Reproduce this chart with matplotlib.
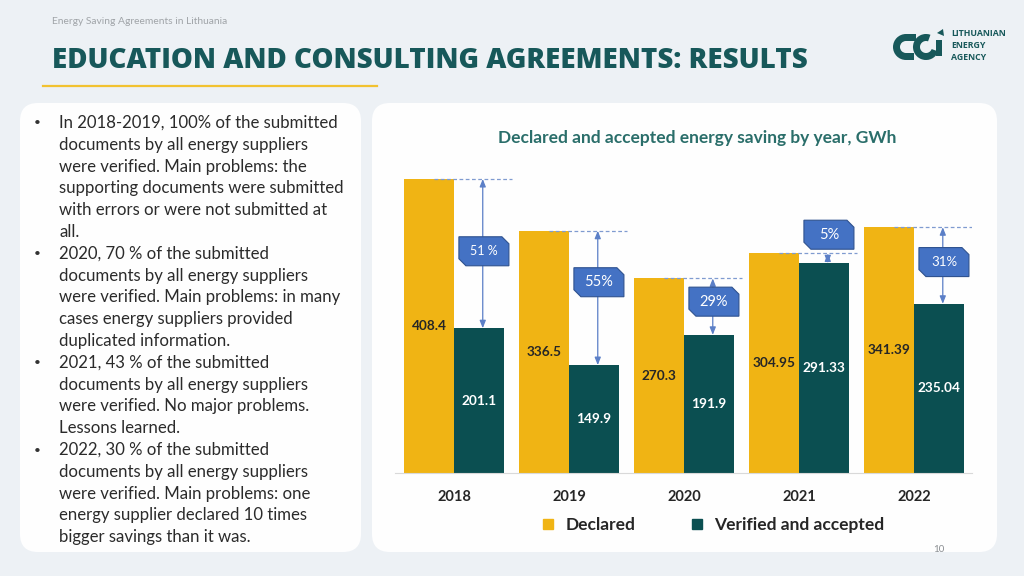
import numpy as np
import matplotlib
matplotlib.use("Agg")
import matplotlib.pyplot as plt
from matplotlib.patches import FancyBboxPatch, Polygon, Wedge, Rectangle
from matplotlib.path import Path
from matplotlib.lines import Line2D

years = ["2018", "2019", "2020", "2021", "2022"]
declared = [408.4, 336.5, 270.3, 304.95, 341.39]
verified = [201.1, 149.9, 191.9, 291.33, 235.04]
declared_labels = ["408.4", "336.5", "270.3", "304.95", "341.39"]
verified_labels = ["201.1", "149.9", "191.9", "291.33", "235.04"]
gap_labels = ["51 %", "55%", "29%", "5%", "31%"]
gap_label_y = [308, 265, 238, 331, 293]
gap_label_size = [9, 10.5, 10.5, 10.5, 9.5]

bullets = [
    "In 2018-2019, 100% of the submitted\ndocuments by all energy suppliers\nwere verified. Main problems: the\n"
    "supporting documents were submitted\nwith errors or were not submitted at\nall.",
    "2020, 70 % of the submitted\ndocuments by all energy suppliers\nwere verified. Main problems: in many\n"
    "cases energy suppliers provided\nduplicated information.",
    "2021, 43 % of the submitted\ndocuments by all energy suppliers\nwere verified. No major problems.\n"
    "Lessons learned.",
    "2022, 30 % of the submitted\ndocuments by all energy suppliers\nwere verified. Main problems: one\n"
    "energy supplier declared 10 times\nbigger savings than it was.",
]

YELLOW = "#F0B414"
TEAL = "#0B4F51"
TITLE_TEAL = "#17585A"
BLUE = "#4472C4"

plt.rcParams["font.family"] = ["Lato", "DejaVu Sans"]

W, H = 1024, 576
fig = plt.figure(figsize=(W / 100, H / 100), dpi=100)
fig.patch.set_facecolor("#EDF1F5")

# background overlay in pixel coordinates
bg = fig.add_axes([0, 0, 1, 1], zorder=0)
bg.set_xlim(0, W); bg.set_ylim(H, 0); bg.axis("off")

for x0, x1 in [(20, 361), (372, 997)]:
    bg.add_patch(FancyBboxPatch((x0, 103), x1 - x0, 449,
                                boxstyle="round,pad=0,rounding_size=18",
                                fc="white", ec="none", alpha=0.95))

bg.text(52, 22, "Energy Saving Agreements in Lithuania", fontsize=7.4, color="#A0A4A8", va="center")
bg.text(52, 61, "EDUCATION AND CONSULTING AGREEMENTS: RESULTS", fontsize=20,
        fontweight="heavy", color=TITLE_TEAL, va="center", family=["Open Sans", "DejaVu Sans"])
bg.plot([43, 377], [86, 86], color="#F2C230", lw=1.6)
bg.text(939, 549, "10", fontsize=7, color="#8A8E92", ha="center", va="center")

# logo
bg.add_patch(Wedge((906, 47), 13, 90, 270, width=7, fc=TITLE_TEAL, ec="none"))
bg.add_patch(Rectangle((906, 34), 10, 7, fc=TITLE_TEAL, ec="none"))
bg.add_patch(Rectangle((906, 53), 8, 7, fc=TITLE_TEAL, ec="none"))
bg.add_patch(Wedge((926, 47), 13, 20, 290, width=7, fc=TITLE_TEAL, ec="none"))
bg.add_patch(Polygon([[937, 33], [943, 29], [944, 36]], closed=True, fc=TITLE_TEAL, ec="none"))
bg.add_patch(Rectangle((936, 40), 6, 16, fc=TITLE_TEAL, ec="none"))
for i, word in enumerate(["LITHUANIAN", "ENERGY", "AGENCY"]):
    bg.text(951, 34 + 12 * i, word, fontsize=6.3, fontweight="bold", color=TITLE_TEAL, va="center",
            family=["Open Sans", "DejaVu Sans"])

# bullet text
y = 123
for b in bullets:
    lines = b.split("\n")
    bg.text(34, y, "\u2022", fontsize=8.5, color="#333333", va="center")
    for ln in lines:
        bg.text(59, y, ln, fontsize=12.1, color="#2B2B2B", va="center")
        y += 21.8

# chart axes
ax = fig.add_axes([395 / W, 1 - 473 / H, (972 - 395) / W, (473 - 160) / H], zorder=2)
ax.patch.set_alpha(0)
x = np.arange(len(years))
bw = 50 / 115
ax.bar(x - bw / 2, declared, bw, color=YELLOW, label="Declared", zorder=2)
ax.bar(x + bw / 2, verified, bw, color=TEAL, label="Verified and accepted", zorder=2)
ax.set_xlim(-0.513, 4.504)
ax.set_ylim(0, 313 / 0.7199)
for s in ["top", "right", "left"]:
    ax.spines[s].set_visible(False)
ax.spines["bottom"].set_color("#D9D9D9")
ax.set_yticks([])
ax.set_xticks(x)
ax.set_xticklabels(years, fontsize=10.5, fontweight="bold", color="#262626")
ax.tick_params(axis="x", length=0, pad=12)

for i in range(len(years)):
    ax.text(x[i] - bw / 2, declared[i] / 2, declared_labels[i], ha="center", va="center",
            fontsize=9.8, fontweight="bold", color="#262626", zorder=3)
    ax.text(x[i] + bw / 2, verified[i] / 2, verified_labels[i], ha="center", va="center",
            fontsize=9.8, fontweight="bold", color="white", zorder=3)
    # dashed line at declared level
    ax.plot([x[i] - 0.17, x[i] + 0.5], [declared[i], declared[i]], ls=(0, (3, 2)),
            color="#7F9BD0", lw=0.9, zorder=3)
    ax.annotate("", xy=(x[i] + 0.25, verified[i]), xytext=(x[i] + 0.25, declared[i]),
                arrowprops=dict(arrowstyle="<|-|>,head_length=0.45,head_width=0.18",
                                color="#5B7FC7", lw=0.9, shrinkA=0, shrinkB=0), zorder=3)


def snip_box(x0, y0, width, height, mutation_size):
    cx, cy = x0 + width / 2, y0 + height / 2
    w, h = 50, 29
    c = 7
    l, r, b, t = cx - w / 2, cx + w / 2, cy - h / 2, cy + h / 2
    verts = [(l, t), (r - c, t), (r, t - c), (r, b), (l + c, b), (l, b + c), (l, t), (l, t)]
    codes = [Path.MOVETO] + [Path.LINETO] * 6 + [Path.CLOSEPOLY]
    return Path(verts, codes)


for i in range(len(years)):
    ax.text(x[i] + 0.26, gap_label_y[i], gap_labels[i], ha="center", va="center",
            fontsize=gap_label_size[i], color="white", zorder=5,
            bbox=dict(boxstyle=snip_box, fc=BLUE, ec="#2F528F", lw=0.8))

handles = [Line2D([], [], marker="s", ls="none", ms=6.5, color=YELLOW),
           Line2D([], [], marker="s", ls="none", ms=6.5, color=TEAL)]
fig.legend(handles, ["Declared", "Verified and accepted"], loc="center",
           bbox_to_anchor=(711 / W, 1 - 525 / H), ncol=2, frameon=False,
           prop=dict(size=12.5, weight="bold"), handletextpad=0.4, columnspacing=2.95,
           handlelength=1.2, labelcolor="#262626")

fig.text(697 / W, 1 - 138 / H, "Declared and accepted energy saving by year, GWh", ha="center",
         va="center", fontsize=12.5, fontweight="bold", color="#2A6E6A")

fig.savefig("out.png", dpi=100, facecolor=fig.get_facecolor())
